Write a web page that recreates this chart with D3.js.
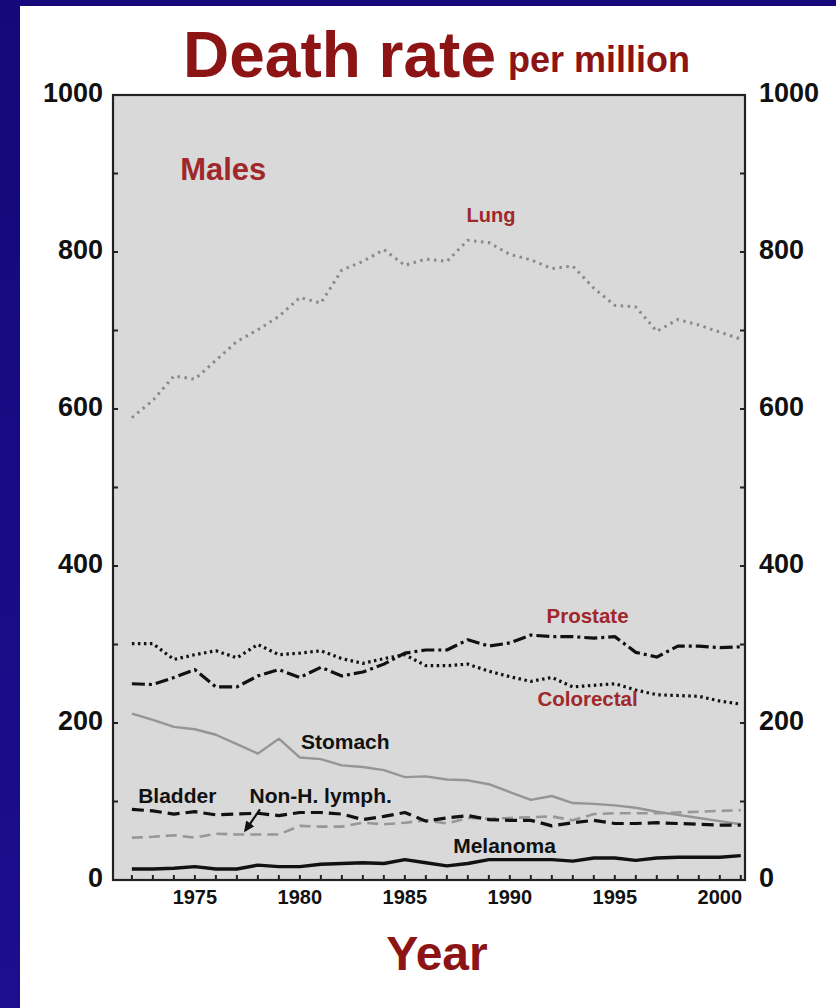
<!DOCTYPE html>
<html>
<head>
<meta charset="utf-8">
<script src="https://cdn.jsdelivr.net/npm/d3@7"></script>
<style>
	body { margin: 0; background: #fff; }
	svg text { font-family: "Liberation Sans", Arial, sans-serif; font-weight: bold; }
</style>
</head>
<body>
<svg id="chart" width="836" height="1008"></svg>
<script>
/* Datos (tasa de muerte por millón, hombres) */
const years = d3.range(1972, 2002);
const lung = [589, 611, 642, 638, 662, 686, 701, 718, 742, 735, 777, 788, 803, 783, 791, 788, 815, 812, 797, 790, 779, 782, 754, 732, 730, 699, 714, 707, 698, 689];
const colorectal = [301, 301, 281, 287, 292, 283, 300, 287, 289, 292, 282, 276, 282, 287, 273, 273, 275, 266, 259, 253, 258, 246, 248, 250, 242, 236, 235, 234, 228, 224];
const prostate = [250, 249, 258, 268, 246, 246, 260, 268, 258, 271, 260, 265, 275, 289, 293, 293, 306, 298, 302, 312, 310, 310, 308, 310, 290, 284, 298, 298, 296, 297];
const stomach = [212, 204, 195, 192, 185, 173, 161, 180, 156, 154, 146, 144, 140, 131, 132, 128, 127, 122, 112, 102, 107, 98, 97, 95, 92, 87, 83, 79, 75, 71];
const bladder = [90, 88, 84, 87, 83, 84, 85, 82, 86, 86, 84, 77, 81, 86, 75, 79, 82, 77, 76, 76, 69, 73, 76, 72, 72, 73, 72, 71, 70, 70];
const lymph = [54, 55, 57, 54, 59, 58, 58, 58, 69, 68, 68, 73, 71, 73, 76, 72, 79, 78, 79, 80, 81, 76, 84, 85, 85, 85, 86, 87, 88, 89];
const melanoma = [14, 14, 15, 17, 14, 14, 19, 17, 17, 20, 21, 22, 21, 26, 22, 18, 21, 26, 26, 26, 26, 24, 28, 28, 25, 28, 29, 29, 29, 31];

const yTicks = d3.range(0, 1001, 100);
const yLabels = [0, 200, 400, 600, 800, 1000];
const xLabels = [1975, 1980, 1985, 1990, 1995, 2000];

/* Estilos de serie */
const series = [
	{ name: "Lung", values: lung, color: "#8a8a8a", width: 3, dash: "2.5,4.5" },
	{ name: "Colorectal", values: colorectal, color: "#111", width: 3.2, dash: "2.5,3.5" },
	{ name: "Prostate", values: prostate, color: "#111", width: 3.2, dash: "13,4,3,4" },
	{ name: "Stomach", values: stomach, color: "#959595", width: 2.4, dash: null },
	{ name: "Non-H. lymph.", values: lymph, color: "#979797", width: 2.6, dash: "11,6" },
	{ name: "Bladder", values: bladder, color: "#111", width: 3.2, dash: "12,6" },
	{ name: "Melanoma", values: melanoma, color: "#111", width: 3.4, dash: null }
];

/* Etiquetas [texto, año, valor, anchor, color, tamaño] */
const labels = [
	["Males", 1974.3, 892, "start", "#a0282c", 31],
	["Lung", 1989.1, 838, "middle", "#a0282c", 20],
	["Prostate", 1993.7, 327, "middle", "#a0282c", 20.5],
	["Colorectal", 1993.7, 222, "middle", "#a0282c", 20.5],
	["Stomach", 1980.05, 167, "start", "#111", 21],
	["Bladder", 1972.3, 98, "start", "#111", 21],
	["Non-H. lymph.", 1977.6, 98, "start", "#111", 21],
	["Melanoma", 1987.3, 34, "start", "#111", 21]
];
const arrowFrom = [1978.1, 90];
const arrowTo = [1977.4, 63];

const W = 836, H = 1008;
const M = { top: 95, right: 91, bottom: 128, left: 113 };
const svg = d3.select("#chart");

/* Fondo */
const defs = svg.append("defs");
const grad = defs.append("linearGradient").attr("id", "bg").attr("x1", 0).attr("y1", 0).attr("x2", 0).attr("y2", 1);
grad.append("stop").attr("offset", 0).attr("stop-color", "#14087a");
grad.append("stop").attr("offset", 1).attr("stop-color", "#1c0e8e");
defs.append("marker").attr("id", "arrow").attr("viewBox", "0 0 10 10").attr("refX", 8).attr("refY", 5)
	.attr("markerWidth", 5).attr("markerHeight", 6).attr("orient", "auto")
	.append("path").attr("d", "M0,0.5L10,5L0,9.5z").attr("fill", "#111");

svg.append("rect").attr("width", W).attr("height", H).attr("fill", "url(#bg)");
svg.append("rect").attr("x", 20).attr("y", 6).attr("width", W - 20).attr("height", H - 6).attr("fill", "#fff");

const x = d3.scaleLinear().domain([1971.1, 2001.2]).range([M.left, W - M.right]);
const y = d3.scaleLinear().domain([0, 1000]).range([H - M.bottom, M.top]);

svg.append("rect")
	.attr("x", x.range()[0]).attr("y", y(1000))
	.attr("width", x.range()[1] - x.range()[0]).attr("height", y(0) - y(1000))
	.attr("fill", "#d9d9d9");

/* Líneas */
const line = d3.line().x((d, i) => x(years[i])).y(d => y(d));
svg.append("g").selectAll("path").data(series).join("path")
	.attr("d", d => line(d.values))
	.attr("fill", "none")
	.attr("stroke", d => d.color)
	.attr("stroke-width", d => d.width)
	.attr("stroke-dasharray", d => d.dash)
	.attr("stroke-linejoin", "round");

/* Ejes */
const axisColor = "#222";
svg.append("rect")
	.attr("x", x.range()[0]).attr("y", y(1000))
	.attr("width", x.range()[1] - x.range()[0]).attr("height", y(0) - y(1000))
	.attr("fill", "none").attr("stroke", axisColor).attr("stroke-width", 2.2);

const gy = svg.append("g");
gy.selectAll(".tl").data(yTicks).join("line")
	.attr("x1", x.range()[0]).attr("x2", x.range()[0] + 5)
	.attr("y1", d => y(d)).attr("y2", d => y(d))
	.attr("stroke", axisColor).attr("stroke-width", 2);
gy.selectAll(".tr").data(yTicks).join("line")
	.attr("x1", x.range()[1]).attr("x2", x.range()[1] - 5)
	.attr("y1", d => y(d)).attr("y2", d => y(d))
	.attr("stroke", axisColor).attr("stroke-width", 2);
gy.selectAll(".ll").data(yLabels).join("text")
	.attr("x", x.range()[0] - 10).attr("y", d => y(d) + 7)
	.attr("text-anchor", "end").attr("font-size", 27).attr("fill", "#111")
	.text(d => d);
gy.selectAll(".lr").data(yLabels).join("text")
	.attr("x", x.range()[1] + 14).attr("y", d => y(d) + 7)
	.attr("text-anchor", "start").attr("font-size", 27).attr("fill", "#111")
	.text(d => d);

const gx = svg.append("g");
gx.selectAll("line").data(years).join("line")
	.attr("x1", d => x(d)).attr("x2", d => x(d))
	.attr("y1", y(0)).attr("y2", y(0) - 5)
	.attr("stroke", axisColor).attr("stroke-width", 2);
gx.selectAll("text").data(xLabels).join("text")
	.attr("x", d => x(d)).attr("y", y(0) + 24)
	.attr("text-anchor", "middle").attr("font-size", 20).attr("fill", "#111")
	.text(d => d);

/* Etiquetas de series */
svg.append("g").selectAll("text").data(labels).join("text")
	.attr("x", d => x(d[1])).attr("y", d => y(d[2]))
	.attr("text-anchor", d => d[3]).attr("fill", d => d[4]).attr("font-size", d => d[5])
	.text(d => d[0]);

svg.append("line")
	.attr("x1", x(arrowFrom[0])).attr("y1", y(arrowFrom[1]))
	.attr("x2", x(arrowTo[0])).attr("y2", y(arrowTo[1]))
	.attr("stroke", "#111").attr("stroke-width", 2.2).attr("marker-end", "url(#arrow)");

/* Títulos */
svg.append("text").attr("x", 183).attr("y", 77).attr("font-size", 64).attr("fill", "#8c1414").text("Death rate");
svg.append("text").attr("x", 508).attr("y", 72).attr("font-size", 36).attr("fill", "#8c1414").text("per million");
svg.append("text").attr("x", 437).attr("y", 970).attr("text-anchor", "middle").attr("font-size", 48).attr("fill", "#8c1414").text("Year");
</script>
</body>
</html>
